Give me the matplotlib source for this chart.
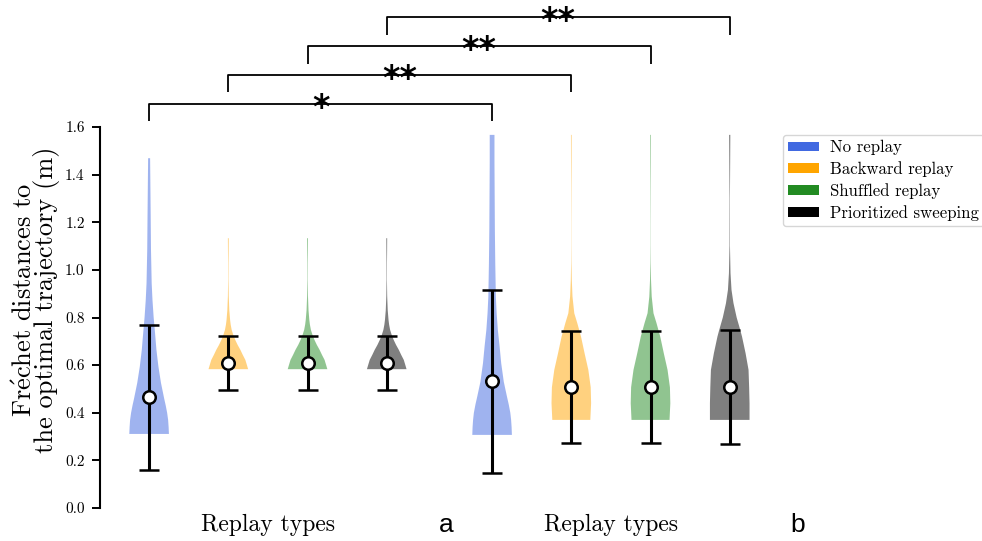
import numpy as np
import matplotlib
matplotlib.use("Agg")
import matplotlib.pyplot as plt
from matplotlib.patches import Patch

plt.rcParams["font.family"] = "cmr10"
plt.rcParams["mathtext.fontset"] = "cm"
plt.rcParams["axes.formatter.use_mathtext"] = True

# ---------------------------------------------------------------- data
replay_types = ["No replay", "Backward replay", "Shuffled replay", "Prioritized sweeping"]
replay_colors = ["royalblue", "orange", "forestgreen", "black"]

# mean +/- std of the Frechet distance per replay type
mean_a = [0.465, 0.610, 0.610, 0.610]
std_a = [0.305, 0.113, 0.113, 0.113]
mean_b = [0.532, 0.507, 0.507, 0.507]
std_b = [0.383, 0.235, 0.235, 0.239]

# kernel density profiles (distance levels, relative density)
kde_y_a_none = [0.311, 0.34, 0.37, 0.40, 0.43, 0.46, 0.525, 0.594, 0.664, 0.734,
                0.80, 0.874, 0.944, 1.084, 1.224, 1.365, 1.469]
kde_d_a_none = [1.00, 0.985, 0.96, 0.91, 0.84, 0.76, 0.60, 0.47, 0.37, 0.30,
                0.23, 0.17, 0.13, 0.095, 0.08, 0.063, 0.05]

kde_y_a_replay = [0.583, 0.60, 0.622, 0.643, 0.664, 0.685, 0.706, 0.727, 0.748, 0.77,
                  0.79, 0.83, 0.89, 0.96, 1.03, 1.08, 1.133]
kde_d_a_replay = [1.00, 0.94, 0.86, 0.73, 0.61, 0.47, 0.35, 0.25, 0.17, 0.12,
                  0.09, 0.05, 0.022, 0.01, 0.012, 0.018, 0.022]

kde_y_b_none = [0.307, 0.34, 0.37, 0.40, 0.435, 0.468, 0.53, 0.608, 0.678, 0.748,
                0.818, 0.888, 1.028, 1.168, 1.31, 1.45, 1.567]
kde_d_b_none = [1.00, 0.985, 0.96, 0.92, 0.84, 0.75, 0.59, 0.46, 0.38, 0.29,
                0.23, 0.19, 0.16, 0.14, 0.13, 0.12, 0.12]

kde_y_b_replay = [0.370, 0.44, 0.507, 0.58, 0.65, 0.72, 0.777, 0.818, 0.888, 0.958,
                  1.03, 1.10, 1.20, 1.35, 1.45, 1.567]
kde_d_b_replay = [0.96, 1.00, 0.98, 0.86, 0.67, 0.49, 0.30, 0.15, 0.06, 0.025,
                  0.01, 0.006, 0.006, 0.01, 0.015, 0.018]

kde_y_b_sweep = [0.370, 0.44, 0.507, 0.58, 0.65, 0.72, 0.748, 0.80, 0.86, 0.916,
                 0.986, 1.10, 1.30, 1.45, 1.567]
kde_d_b_sweep = [1.00, 1.00, 0.98, 0.95, 0.80, 0.62, 0.53, 0.35, 0.19, 0.09,
                 0.04, 0.012, 0.01, 0.022, 0.03]

# significance between the two conditions, per replay type
sig_labels = ["*", "**", "**", "**"]

y_ticks = [0.0, 0.2, 0.4, 0.6, 0.8, 1.0, 1.2, 1.4, 1.6]

# ---------------------------------------------------------------- figure
fig = plt.figure(figsize=(9.82, 5.41), dpi=100)
ax = fig.add_axes([100 / 982, 33 / 541, 663 / 982, 416.7 / 541])

pos_a = np.arange(4, dtype=float)
pos_b = np.arange(4, dtype=float) + 4.33


def make_stats(ys, ds, m):
    ys = np.asarray(ys, dtype=float)
    return dict(coords=ys, vals=np.asarray(ds, dtype=float), mean=m, median=m,
                min=ys[0], max=ys[-1])


stats_a = [make_stats(kde_y_a_none, kde_d_a_none, mean_a[0])] + \
          [make_stats(kde_y_a_replay, kde_d_a_replay, mean_a[i]) for i in range(1, 4)]
stats_b = [make_stats(kde_y_b_none, kde_d_b_none, mean_b[0]),
           make_stats(kde_y_b_replay, kde_d_b_replay, mean_b[1]),
           make_stats(kde_y_b_replay, kde_d_b_replay, mean_b[2]),
           make_stats(kde_y_b_sweep, kde_d_b_sweep, mean_b[3])]

for stats, pos in ((stats_a, pos_a), (stats_b, pos_b)):
    parts = ax.violin(stats, positions=pos, widths=0.5, showmeans=False,
                      showextrema=False, showmedians=False)
    for body, col in zip(parts["bodies"], replay_colors):
        body.set_facecolor(col)
        body.set_edgecolor("none")
        body.set_linewidth(0)
        body.set_alpha(0.5)

for pos, means, stds in ((pos_a, mean_a, std_a), (pos_b, mean_b, std_b)):
    ax.errorbar(pos, means, yerr=stds, fmt="o", color="black", ecolor="black",
                elinewidth=2.2, capsize=7, capthick=1.8, markersize=9,
                markerfacecolor="white", markeredgecolor="black",
                markeredgewidth=1.8, zorder=3)

# significance brackets linking the two conditions
for k, lab in enumerate(sig_labels):
    x1, x2 = pos_a[k], pos_b[k]
    y = 1.697 + 0.121 * k
    ax.plot([x1, x1, x2, x2], [y - 0.073, y, y, y - 0.073], color="black",
            lw=1.3, clip_on=False, solid_capstyle="butt")
    ax.annotate(lab, xy=((x1 + x2) / 2, y), xytext=(0, -10),
                textcoords="offset points", ha="center", va="baseline",
                fontsize=24, fontweight="bold", family="DejaVu Sans",
                annotation_clip=False)

ax.set_xlim(-0.62, 7.75)
ax.set_ylim(0, 1.75)
for side in ("top", "right", "bottom"):
    ax.spines[side].set_visible(False)
ax.spines["left"].set_bounds(0, 1.6)
ax.spines["left"].set_linewidth(1.5)
ax.set_xticks([])
ax.set_yticks(y_ticks)
ax.set_yticklabels([f"{t:.1f}" for t in y_ticks])
ax.tick_params(axis="y", length=6, width=1.4, labelsize=11, pad=5)

ax.set_ylabel("Fr$\\mathrm{\\acute{e}}$chet distances to\nthe optimal trajectory (m)",
              fontsize=19, linespacing=0.8, labelpad=4)

for centre in (pos_a.mean(), pos_b.mean()):
    ax.annotate("Replay types", xy=(centre, 0), xycoords=("data", "axes fraction"),
                xytext=(0, -12), textcoords="offset points", ha="center",
                va="center", fontsize=17)
for xlab, lab in ((3.746, "a"), (8.19, "b")):
    ax.annotate(lab, xy=(xlab, 0), xycoords=("data", "axes fraction"),
                xytext=(0, -12), textcoords="offset points", ha="center",
                va="center", fontsize=19, family="Liberation Sans")

handles = [Patch(facecolor=c) for c in replay_colors]
fig.legend(handles, replay_types, loc="upper left",
           bbox_to_anchor=(783 / 982, 1 - 135 / 541), borderaxespad=0,
           fontsize=12.1, handlelength=1.85, handleheight=0.5,
           handletextpad=0.65, labelspacing=0.36, borderpad=0.3,
           frameon=True)

fig.savefig("out.png", dpi=100)
